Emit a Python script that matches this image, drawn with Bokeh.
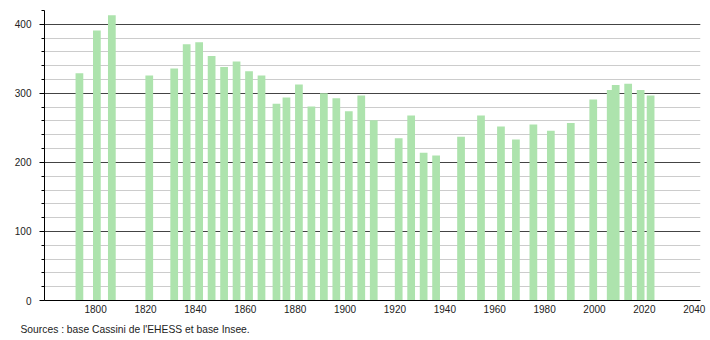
from bokeh.plotting import figure
from bokeh.models import Range1d, FixedTicker, Title, ColumnDataSource
from bokeh.transform import dodge
from bokeh.embed import file_html
from bokeh.resources import INLINE

years = [1793, 1800, 1806, 1821, 1831, 1836, 1841, 1846, 1851, 1856, 1861, 1866,
         1872, 1876, 1881, 1886, 1891, 1896, 1901, 1906, 1911, 1921, 1926, 1931,
         1936, 1946, 1954, 1962, 1968, 1975, 1982, 1990, 1999, 2006, 2008, 2013,
         2018, 2022]
population = [329, 391, 413, 326, 336, 371, 374, 354, 338, 346, 332, 326,
              285, 294, 313, 281, 300, 293, 274, 297, 261, 235, 268, 214,
              210, 237, 268, 252, 233, 255, 246, 257, 291, 305, 312, 314,
              305, 297]
x_ticks = [1800, 1820, 1840, 1860, 1880, 1900, 1920, 1940, 1960, 1980, 2000, 2020, 2040]
y_ticks = [0, 100, 200, 300, 400]
y_minor = list(range(0, 421, 20))
source_text = "Sources : base Cassini de l'EHESS et base Insee."

src = ColumnDataSource(dict(year=years, pop=population))

p = figure(width=710, height=340, output_backend="svg", toolbar_location=None,
           x_range=Range1d(1779.5, 2042.5), y_range=Range1d(0, 420),
           min_border_left=44, min_border_right=10, min_border_top=10,
           min_border_bottom=40)
p.outline_line_color = None
p.background_fill_color = "white"
p.border_fill_color = "white"

p.vbar(x=dodge("year", 0.5), top="pop", width=3.1, bottom=0, source=src,
       fill_color="#ade3ad", line_color=None)

# axes
p.xaxis.ticker = FixedTicker(ticks=x_ticks)
p.yaxis.ticker = FixedTicker(ticks=y_ticks, minor_ticks=y_minor)
for ax in (p.xaxis, p.yaxis):
    ax.axis_line_color = "black"
    ax.axis_line_width = 1
    ax.major_label_text_font = "Liberation Sans"
    ax.major_label_text_font_size = "10px"
    ax.major_label_text_color = "#222222"
p.xaxis.major_tick_out = 0
p.xaxis.major_tick_in = 0
p.xaxis.minor_tick_out = 0
p.xaxis.minor_tick_in = 0
p.xaxis.major_label_standoff = 4
p.yaxis.major_tick_out = 5
p.yaxis.major_tick_in = 0
p.yaxis.minor_tick_out = 3
p.yaxis.minor_tick_in = 0
p.yaxis.major_tick_line_color = "black"
p.yaxis.minor_tick_line_color = "black"
p.yaxis.major_label_standoff = 8

# grid
p.xgrid.grid_line_color = None
p.ygrid.grid_line_color = "#444444"
p.ygrid.grid_line_width = 1
p.ygrid.minor_grid_line_color = "#cccccc"
p.ygrid.minor_grid_line_width = 1
p.ygrid.level = "underlay"

note = Title(text=source_text, align="left", offset=-24, standoff=12,
             text_font="Liberation Sans", text_font_size="10.3px",
             text_font_style="normal", text_color="#222222")
p.add_layout(note, "below")

open("out.html", "w").write(file_html(p, INLINE))
